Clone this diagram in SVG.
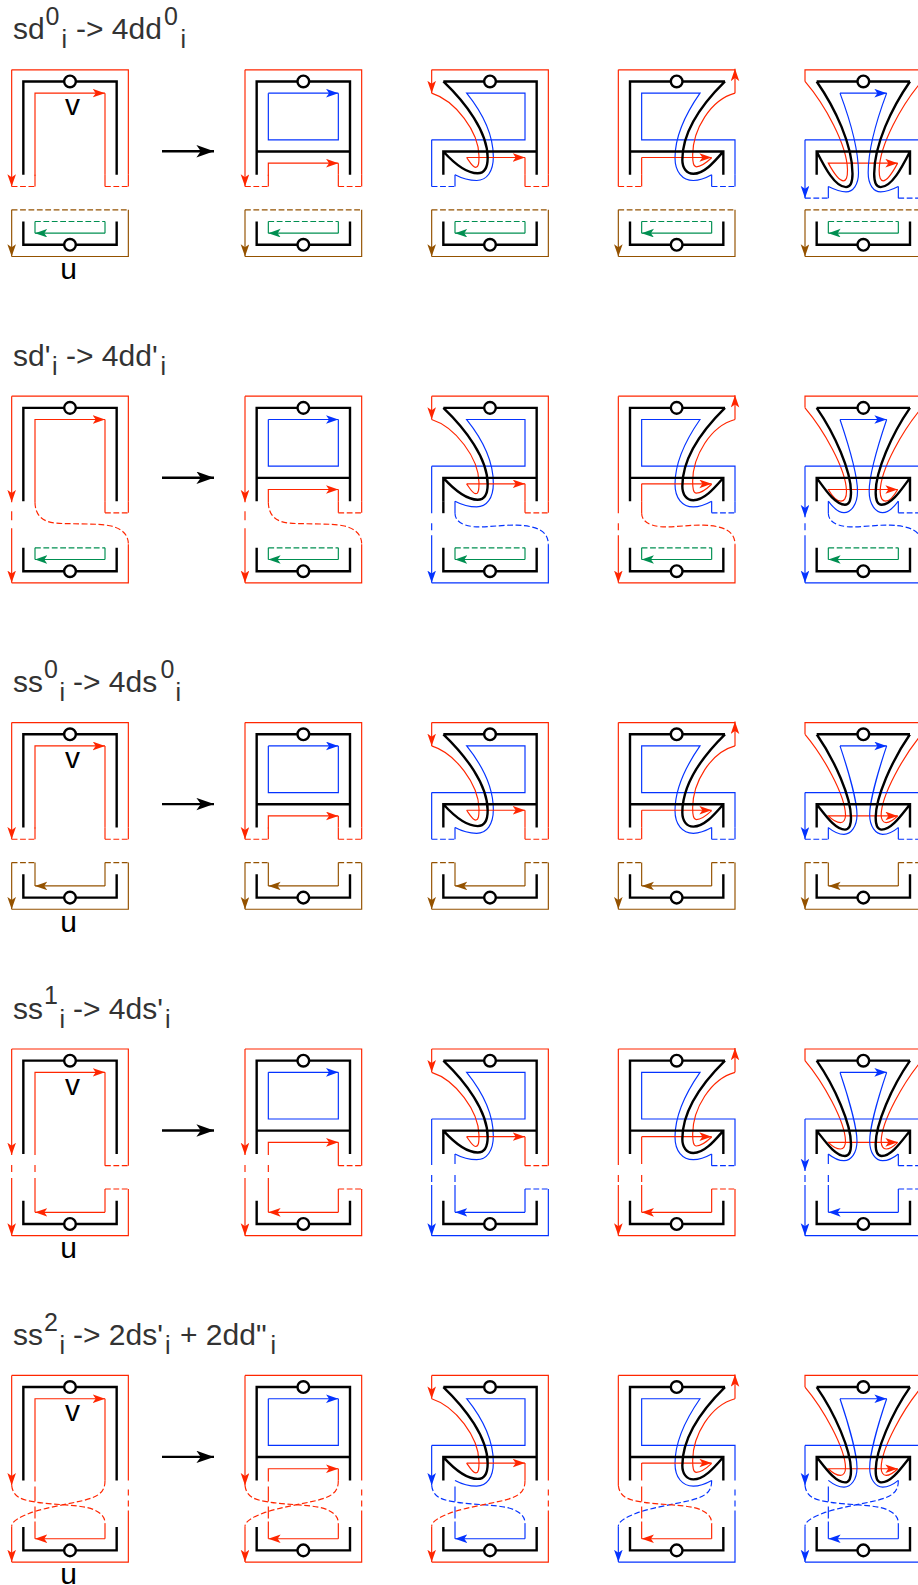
<svg xmlns="http://www.w3.org/2000/svg" xmlns:xlink="http://www.w3.org/1999/xlink" width="918" height="1585" viewBox="0 0 918 1585">
<style>
.c{fill:none;stroke-width:1.17}
.r{stroke:#ff2600;marker-end:url(#ar)}
.b{stroke:#0433ff;marker-end:url(#ab)}
.g{stroke:#008f51;marker-end:url(#ag)}
.n{stroke:#945200;marker-end:url(#an)}
.p{marker-end:none}
.d{marker-end:none;stroke-dasharray:5.8 2.6}
.k{fill:none;stroke:#000;stroke-width:2.4}
.o{fill:#fff;stroke:#000;stroke-width:2.4}
.t{font-family:"Liberation Sans",Arial,sans-serif;font-size:30px;fill:#333}
.s{font-size:25px}
.l{font-family:"Liberation Sans",Arial,sans-serif;font-size:30px;fill:#000;text-anchor:middle}
</style>
<defs>
<marker id="ar" markerUnits="userSpaceOnUse" markerWidth="13" markerHeight="9" refX="12.3" refY="4.3" orient="auto"><path d="M0,0L12.3,4.3L0,8.6L3,4.3Z" fill="#ff2600"/></marker>
<marker id="ab" markerUnits="userSpaceOnUse" markerWidth="13" markerHeight="9" refX="12.3" refY="4.3" orient="auto"><path d="M0,0L12.3,4.3L0,8.6L3,4.3Z" fill="#0433ff"/></marker>
<marker id="ag" markerUnits="userSpaceOnUse" markerWidth="13" markerHeight="9" refX="12.3" refY="4.3" orient="auto"><path d="M0,0L12.3,4.3L0,8.6L3,4.3Z" fill="#008f51"/></marker>
<marker id="an" markerUnits="userSpaceOnUse" markerWidth="13" markerHeight="9" refX="12.3" refY="4.3" orient="auto"><path d="M0,0L12.3,4.3L0,8.6L3,4.3Z" fill="#945200"/></marker>
<marker id="ak" markerUnits="userSpaceOnUse" markerWidth="18" markerHeight="13" refX="17.6" refY="6.2" orient="auto"><path d="M0,0L17.6,6.2L0,12.4L4.4,6.2Z" fill="#000"/></marker>

<g id="ct"><circle class="o" cx="58.33" cy="11.67" r="5.83"/></g>
<g id="kb"><path class="k" d="M11.67,151.67V175H105V151.67"/><circle class="o" cx="58.33" cy="175" r="5.83"/></g>
<g id="k1"><path class="k" d="M11.67,105V11.67H105V105"/><use href="#ct"/></g>
<g id="k2"><path class="k" d="M11.67,105V11.67H105V105M11.67,81.67H105"/><use href="#ct"/></g>
<g id="k3"><path class="k" d="M11.67,11.67H105V105M11.67,105V81.67H105M11.67,11.67C34,33 56,62 56,88C56,98 53,103.5 46,103.5C34,103.5 22,93 11.67,81.67"/><use href="#ct"/></g>
<g id="k4"><path class="k" d="M106.67,11.67H11.67V105M105,105V81.67H11.67M106.67,11.67C86,32 64,60 64,90C64,98 68,104 75,104C86,104 96,92 105,81.67"/><use href="#ct"/></g>
<g id="k5a"><path class="k" d="M11.67,11.67H105M11.67,105V81.67H105V105M11.67,11.67C30,38 47.5,75 47.5,104C47.5,113 45,117.3 41,117.3C30,117.3 20,98 11.67,81.67M105,11.67C86.67,38 69.17,75 69.17,104C69.17,113 71.67,117.3 75.67,117.3C86.67,117.3 96.67,98 105,81.67"/><use href="#ct"/></g>
<g id="k5b"><path class="k" d="M11.67,11.67H105M11.67,105V81.67H105V105M11.67,11.67C30,38 46,75 46,96C46,104 44,108.5 40,108.5C30,108.5 20,93 11.67,81.67M105,11.67C86.67,38 70.67,75 70.67,96C70.67,104 72.67,108.5 76.67,108.5C86.67,108.5 96.67,93 105,81.67"/><use href="#ct"/></g>
<g id="k5c"><path class="k" d="M11.67,11.67H105M11.67,105V81.67H105V105M11.67,11.67C30,38 46,75 46,95C46,103 44,107 40,107C30,107 20,92 11.67,81.67M105,11.67C86.67,38 70.67,75 70.67,95C70.67,103 72.67,107 76.67,107C86.67,107 96.67,92 105,81.67"/><use href="#ct"/></g>

<g id="o1"><path class="p" d="M116.67,105V0H0"/><path d="M0,0V116.67"/></g>
<g id="o4"><path class="p" d="M116.67,105V0H0"/><path d="M0,0V106"/></g>
<g id="o5"><path class="p" d="M116.67,105V0H0"/><path d="M0,0V110"/></g>
<g id="i1"><path d="M23.33,106V23.33H93.33"/><path class="p" d="M93.33,23.33V105"/></g>
<g id="i2"><path d="M23.33,106V93.33H93.33"/><path class="p" d="M93.33,93.33V105"/></g>
<g id="rx"><path class="p" d="M93.33,105V116.67M116.67,105V116.67"/><path class="d" d="M93.33,116.67H116.67"/></g>
<g id="lx"><path class="p" d="M23.33,105V116.67"/><path class="d" d="M0,116.67H23.33"/></g>
<g id="br"><path class="p" d="M93.33,23.33V70H23.33V23.33"/><path d="M23.33,23.33H93.33"/></g>

<g id="b3"><path class="p" d="M0,70H93.33V23.33H35C50,42 61.67,65 61.67,87C61.67,102 55,110.7 45,110.7C36,110.7 29,108 23.33,105"/></g>
<g id="r3"><path class="p" d="M116.67,105V0H0"/><path d="M0,0V23.33"/><path class="p" d="M0,23.33C24,31 47,62 47.3,86C47.4,93 47,97.5 44,97.5C41,97.5 38,92 35,87.67"/><path d="M35,87.67H93.33"/><path class="p" d="M93.33,87.67V105"/></g>
<g id="b4"><path class="p" d="M116.67,105V70H23.33V23.33H81.67C68,43 56.67,65 56.67,88C56.67,102 64,110.7 75,110.7C82,110.7 88,108 93.33,105"/></g>
<g id="r4"><path class="p" d="M0,0H116.67"/><path class="p" d="M93.33,88C88,93 82,97 78,97C75,97 74.3,92 74.33,85C74.5,60 92,30 116.67,23.33"/><path d="M116.67,23.33V-1"/><path d="M23.33,87.67H93.33"/><path class="p" d="M23.33,87.67V105"/></g>

<g id="b5a"><path d="M35,23.33H81.67"/><path class="p" d="M35,23.33C45,50 53.5,80 53.5,103C53.5,115 48,122 41,122C34,122 28,119 23.33,116.67M81.67,23.33C71.67,50 63.17,80 63.17,103C63.17,115 68.67,122 75.67,122C82.67,122 88.67,119 93.33,116.67M116.67,105V70H0"/></g>
<g id="b5b"><path d="M35,23.33H81.67"/><path class="p" d="M35,23.33C44,50 52.5,80 52.5,95C52.5,108 46,116.5 39,116.5C32,116.5 27,110 23.33,105M81.67,23.33C72.67,50 64.17,80 64.17,95C64.17,108 70.67,116.5 77.67,116.5C84.67,116.5 89.67,110 93.33,105M116.67,105V70H0"/></g>
<g id="b5c"><path d="M35,23.33H81.67"/><path class="p" d="M35,23.33C44,50 52,80 52,92C52,104 46,111.7 39,111.7C32,111.7 27,108 23.33,105M81.67,23.33C72.67,50 64.67,80 64.67,92C64.67,104 70.67,111.7 77.67,111.7C84.67,111.7 89.67,108 93.33,105M116.67,105V70H0"/></g>
<g id="r5a"><path d="M0,11.67C20,35 42,75 42.5,100C42.6,108 41,111 38.5,111C34,111 28,102 23.33,93.33H92.67"/><path class="p" d="M92.67,93.33C88,102 82.67,111 78.17,111C75.67,111 74.07,108 74.17,100C74.67,75 96.67,35 116.67,11.67V0H0V11.67"/></g>
<g id="r5b"><path d="M0,11.67C18,33 41,72 41.5,95C41.6,102 39,105 36,105C31,105 26,98 23.33,93.33H92.67"/><path class="p" d="M92.67,93.33C90,98 85.67,105 80.67,105C77.67,105 75.07,102 75.17,95C75.67,72 98.67,33 116.67,11.67V0H0V11.67"/></g>
<g id="r5c"><path d="M0,11.67C18,33 40,72 40.5,92C40.6,97 38.5,100 35.5,100C31,100 26,96 23.33,93.33H92.67"/><path class="p" d="M92.67,93.33C90,96 85.67,100 81.17,100C78.17,100 76.07,97 76.17,92C76.67,72 98.67,33 116.67,11.67V0H0V11.67"/></g>

<g id="lo"><path class="d" d="M0,140H116.67"/><path class="p" d="M116.67,140V186.67H0"/><path d="M0,140V186.67"/></g>
<g id="li"><path class="d" d="M23.33,151.67H93.33"/><path class="p" d="M23.33,151.67V163.33M93.33,151.67V163.33"/><path d="M93.33,163.33H23.33"/></g>
<g id="l3"><path class="d" d="M0,140H23.33"/><path class="d" d="M93.33,140H116.67"/><path class="p" d="M23.33,140V163.33M93.33,140V163.33M116.67,140V186.67H0"/><path d="M93.33,163.33H23.33"/><path d="M0,140V186.67"/></g>
<g id="l2a"><path class="d" d="M23.33,106C23.33,118 30,126 45,127C60,128 85,127 98,129.5C110,132 116.67,138 116.67,148"/><path class="p" d="M0,115V124M116.67,148V186.67H0"/><path d="M0,132V186.67"/></g>
<g id="l2b"><path class="p" d="M23.33,105V117M0,127V134M116.67,148V186.67H0"/><path class="d" d="M23.33,117C23.33,124 29,129 42,130.5C55,131.5 70,128.5 85,129C105,129.5 116.67,135 116.67,148"/><path d="M0,139V186.67"/></g>
<g id="l4"><path class="d" d="M93.33,140H116.67"/><path class="p" d="M93.33,140V163.33M116.67,140V186.67H0"/><path d="M93.33,163.33H23.33"/></g>
<g id="l4a"><use href="#l4"/><path class="p" d="M0,116V123M23.33,116V123M23.33,129V163.33"/><path d="M0,129V186.67"/></g>
<g id="l4b"><use href="#l4"/><path class="p" d="M23.33,105V115M0,126V133M23.33,126V133M23.33,136V163.33"/><path d="M0,136V186.67"/></g>
<g id="l5A"><path class="d" d="M0,110C1,120 8,124 20,126C40,129.5 60,129 75,132C87,135 93.33,140 93.33,148"/><path class="p" d="M93.33,148V163.33M23.33,111V126M23.33,131V143M23.33,146V163.33"/><path d="M93.33,163.33H23.33"/></g>
<g id="l5B"><path class="d" d="M93.33,105C93.33,116 88,121 72,125C55,129 35,132 20,137C10,141 0,145 0,151"/><path class="p" d="M116.67,114V120M116.67,125V131M116.67,135V186.67H0"/><path d="M0,151V186.67"/></g>
</defs>

<g id="titles">
<text class="t" y="39.3"><tspan x="13">sd</tspan><tspan class="s" x="45.5" dy="-14.3">0</tspan><tspan class="s" x="61.5" dy="23.3">i</tspan><tspan x="76" dy="-9">-&gt; 4dd</tspan><tspan class="s" x="164" dy="-14.3">0</tspan><tspan class="s" x="180.5" dy="23.3">i</tspan></text>
<text class="t" y="365.7"><tspan x="13">sd'</tspan><tspan class="s" x="52" dy="9">i</tspan><tspan x="66" dy="-9">-&gt; 4dd'</tspan><tspan class="s" x="160.5" dy="9">i</tspan></text>
<text class="t" y="692.1"><tspan x="13">ss</tspan><tspan class="s" x="44" dy="-14.3">0</tspan><tspan class="s" x="59.5" dy="23.3">i</tspan><tspan x="73" dy="-9">-&gt; 4ds</tspan><tspan class="s" x="160.5" dy="-14.3">0</tspan><tspan class="s" x="175.5" dy="23.3">i</tspan></text>
<text class="t" y="1018.5"><tspan x="13">ss</tspan><tspan class="s" x="44" dy="-14.3">1</tspan><tspan class="s" x="59.5" dy="23.3">i</tspan><tspan x="73" dy="-9">-&gt; 4ds'</tspan><tspan class="s" x="165" dy="9">i</tspan></text>
<text class="t" y="1344.9"><tspan x="13">ss</tspan><tspan class="s" x="44" dy="-14.3">2</tspan><tspan class="s" x="59.5" dy="23.3">i</tspan><tspan x="73" dy="-9">-&gt; 2ds'</tspan><tspan class="s" x="165" dy="9">i</tspan><tspan x="180" dy="-9">+ 2dd"</tspan><tspan class="s" x="270.5" dy="9">i</tspan></text>
</g>

<g id="labels">
<text class="l" x="72.5" y="115">v</text><text class="l" x="68.5" y="279">u</text>
<text class="l" x="72.5" y="768">v</text><text class="l" x="68.5" y="932">u</text>
<text class="l" x="72.5" y="1094.5">v</text><text class="l" x="68.5" y="1258">u</text>
<text class="l" x="72.5" y="1421">v</text><text class="l" x="68.5" y="1583.5">u</text>
</g>

<g id="connectors" class="k" style="marker-end:url(#ak)">
<path d="M162,151.3H214"/><path d="M162,477.7H214"/><path d="M162,804.1H214"/><path d="M162,1130.5H214"/><path d="M162,1456.9H214"/>
</g>

<!-- row 1 -->
<g id="r1c1" class="c" transform="translate(11.67,69.8)"><g class="r"><use href="#o1"/><use href="#i1"/><use href="#rx"/><use href="#lx"/></g><use class="n" href="#lo"/><use class="g" href="#li"/><use href="#k1"/><use href="#kb"/></g>
<g id="r1c2" class="c" transform="translate(245,69.8)"><use class="b" href="#br"/><g class="r"><use href="#o1"/><use href="#i2"/><use href="#rx"/><use href="#lx"/></g><use class="n" href="#lo"/><use class="g" href="#li"/><use href="#k2"/><use href="#kb"/></g>
<g id="r1c3" class="c" transform="translate(431.67,69.8)"><g class="b"><use href="#b3"/><path class="p" d="M0,70V116.67"/><use href="#lx"/></g><g class="r"><use href="#r3"/><use href="#rx"/></g><use class="n" href="#lo"/><use class="g" href="#li"/><use href="#k3"/><use href="#kb"/></g>
<g id="r1c4" class="c" transform="translate(618.33,69.8)"><g class="b"><use href="#b4"/><use href="#rx"/></g><g class="r"><use href="#r4"/><path class="p" d="M0,0V116.67"/><use href="#lx"/></g><use class="n" href="#lo"/><use class="g" href="#li"/><use href="#k4"/><use href="#kb"/></g>
<g id="r1c5" class="c" transform="translate(805,69.8)"><use class="r" href="#r5a"/><g class="b"><use href="#b5a"/><path d="M0,70V128.33"/><path class="p" d="M23.33,116.67V128.33M93.33,116.67V128.33"/><path class="d" d="M0,128.33H23.33M93.33,128.33H116.67"/></g><use class="n" href="#lo"/><use class="g" href="#li"/><use href="#k5a"/><use href="#kb"/></g>

<!-- row 2 -->
<g id="r2c1" class="c" transform="translate(11.67,396.2)"><g class="r"><use href="#o4"/><use href="#i1"/><use href="#rx"/><use href="#l2a"/></g><use class="g" href="#li"/><use href="#k1"/><use href="#kb"/></g>
<g id="r2c2" class="c" transform="translate(245,396.2)"><use class="b" href="#br"/><g class="r"><use href="#o4"/><use href="#i2"/><use href="#rx"/><use href="#l2a"/></g><use class="g" href="#li"/><use href="#k2"/><use href="#kb"/></g>
<g id="r2c3" class="c" transform="translate(431.67,396.2)"><g class="b"><use href="#b3"/><path class="p" d="M0,70V117"/><use href="#l2b"/></g><g class="r"><use href="#r3"/><use href="#rx"/></g><use class="g" href="#li"/><use href="#k3"/><path class="k" d="M11.67,105V117"/><use href="#kb"/></g>
<g id="r2c4" class="c" transform="translate(618.33,396.2)"><g class="b"><use href="#b4"/><use href="#rx"/></g><g class="r"><use href="#r4"/><path class="p" d="M0,0V117"/><use href="#l2b"/></g><use class="g" href="#li"/><use href="#k4"/><use href="#kb"/></g>
<g id="r2c5" class="c" transform="translate(805,396.2)"><use class="r" href="#r5b"/><g class="b"><use href="#b5b"/><path d="M0,70V121"/><use href="#rx"/><use href="#l2b"/></g><use class="g" href="#li"/><use href="#k5b"/><use href="#kb"/></g>

<!-- row 3 -->
<g id="r3c1" class="c" transform="translate(11.67,722.6)"><g class="r"><use href="#o1"/><use href="#i1"/><use href="#rx"/><use href="#lx"/></g><use class="n" href="#l3"/><use href="#k1"/><use href="#kb"/></g>
<g id="r3c2" class="c" transform="translate(245,722.6)"><use class="b" href="#br"/><g class="r"><use href="#o1"/><use href="#i2"/><use href="#rx"/><use href="#lx"/></g><use class="n" href="#l3"/><use href="#k2"/><use href="#kb"/></g>
<g id="r3c3" class="c" transform="translate(431.67,722.6)"><g class="b"><use href="#b3"/><path class="p" d="M0,70V116.67"/><use href="#lx"/></g><g class="r"><use href="#r3"/><use href="#rx"/></g><use class="n" href="#l3"/><use href="#k3"/><use href="#kb"/></g>
<g id="r3c4" class="c" transform="translate(618.33,722.6)"><g class="b"><use href="#b4"/><use href="#rx"/></g><g class="r"><use href="#r4"/><path class="p" d="M0,0V116.67"/><use href="#lx"/></g><use class="n" href="#l3"/><use href="#k4"/><use href="#kb"/></g>
<g id="r3c5" class="c" transform="translate(805,722.6)"><use class="r" href="#r5c"/><g class="b"><use href="#b5c"/><path d="M0,70V116.67"/><use href="#lx"/><use href="#rx"/></g><use class="n" href="#l3"/><use href="#k5c"/><use href="#kb"/></g>

<!-- row 4 -->
<g id="r4c1" class="c" transform="translate(11.67,1049)"><g class="r"><use href="#o4"/><use href="#i1"/><use href="#rx"/><use href="#l4a"/></g><use href="#k1"/><use href="#kb"/></g>
<g id="r4c2" class="c" transform="translate(245,1049)"><use class="b" href="#br"/><g class="r"><use href="#o4"/><use href="#i2"/><use href="#rx"/><use href="#l4a"/></g><use href="#k2"/><use href="#kb"/></g>
<g id="r4c3" class="c" transform="translate(431.67,1049)"><g class="b"><use href="#b3"/><path class="p" d="M0,70V116"/><use href="#l4b"/></g><g class="r"><use href="#r3"/><use href="#rx"/></g><use href="#k3"/><use href="#kb"/></g>
<g id="r4c4" class="c" transform="translate(618.33,1049)"><g class="b"><use href="#b4"/><use href="#rx"/></g><g class="r"><use href="#r4"/><path class="p" d="M0,0V116"/><use href="#l4b"/></g><use href="#k4"/><use href="#kb"/></g>
<g id="r4c5" class="c" transform="translate(805,1049)"><use class="r" href="#r5c"/><g class="b"><use href="#b5c"/><path d="M0,70V122"/><use href="#rx"/><use href="#l4b"/></g><use href="#k5c"/><use href="#kb"/></g>

<!-- row 5 -->
<g id="r5c1" class="c" transform="translate(11.67,1375.4)"><g class="r"><use href="#o5"/><use href="#i1"/><use href="#l5A"/><use href="#l5B"/></g><use href="#k1"/><use href="#kb"/></g>
<g id="r5c2" class="c" transform="translate(245,1375.4)"><use class="b" href="#br"/><g class="r"><use href="#o5"/><use href="#i2"/><use href="#l5A"/><use href="#l5B"/></g><use href="#k2"/><use href="#kb"/></g>
<g id="r5c3" class="c" transform="translate(431.67,1375.4)"><g class="b"><use href="#b3"/><path d="M0,70V110"/><use href="#l5A"/></g><g class="r"><use href="#r3"/><use href="#l5B"/></g><use href="#k3"/><use href="#kb"/></g>
<g id="r5c4" class="c" transform="translate(618.33,1375.4)"><g class="b"><use href="#b4"/><use href="#l5B"/></g><g class="r"><use href="#r4"/><path class="p" d="M0,0V110"/><use href="#l5A"/></g><use href="#k4"/><use href="#kb"/></g>
<g id="r5c5" class="c" transform="translate(805,1375.4)"><use class="r" href="#r5c"/><g class="b"><use href="#b5c"/><path d="M0,70V110"/><use href="#l5A"/><use href="#l5B"/></g><use href="#k5c"/><use href="#kb"/></g>
</svg>
